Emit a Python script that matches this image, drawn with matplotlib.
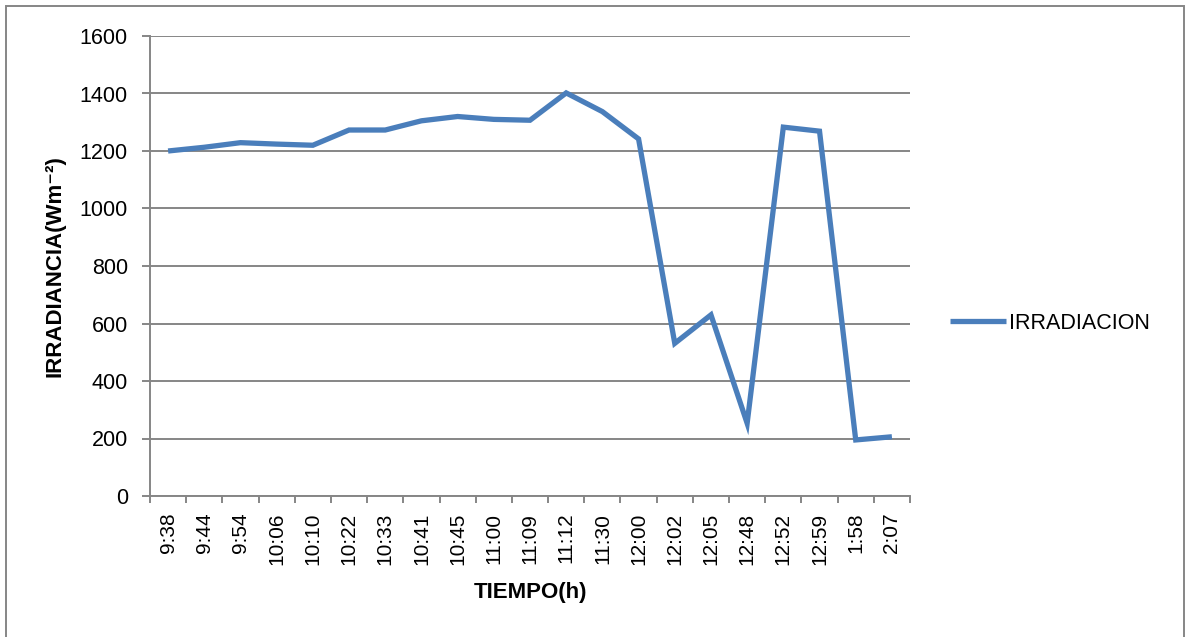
import matplotlib
matplotlib.use("Agg")
import matplotlib.pyplot as plt
from matplotlib.patches import Rectangle

# readings from the chart
tiempo = ["9:38", "9:44", "9:54", "10:06", "10:10", "10:22", "10:33", "10:41",
          "10:45", "11:00", "11:09", "11:12", "11:30", "12:00", "12:02", "12:05",
          "12:48", "12:52", "12:59", "1:58", "2:07"]
irradiacion = [1200, 1213, 1229, 1224, 1220, 1273, 1273, 1305, 1320, 1310, 1307,
               1402, 1337, 1242, 531, 630, 253, 1283, 1269, 195, 206]

plt.rcParams['font.family'] = ['Liberation Sans', 'DejaVu Sans']
grey = '#868686'
blue = '#4a7ebb'

fig = plt.figure(figsize=(11.86, 6.37), dpi=100)
W, H = 1186, 637
ax = fig.add_axes([150 / W, 1 - 496 / H, 760 / W, 460 / H])

x = list(range(len(tiempo)))
ax.plot(x, irradiacion, color=blue, lw=3.8, solid_joinstyle='miter',
        solid_capstyle='butt', label='IRRADIACION', zorder=3)

ax.set_xlim(-0.5, len(tiempo) - 0.5)
ax.set_ylim(0, 1600)
ax.set_yticks(range(0, 1601, 200))
ax.yaxis.grid(True, color=grey, lw=1.4)
ax.set_axisbelow(True)

# category ticks sit between categories, labels at the centres
ax.set_xticks([i - 0.5 for i in range(len(tiempo) + 1)])
ax.set_xticklabels([])
ax.set_xticks(x, minor=True)
ax.set_xticklabels(tiempo, minor=True, rotation=90, fontsize=15)
ax.tick_params(axis='x', which='minor', length=0, pad=12)
ax.tick_params(axis='x', which='major', length=5, width=1.4, color=grey)
ax.tick_params(axis='y', length=6, width=1.4, color=grey, labelsize=15.5, pad=10)

for side in ['top', 'right']:
    ax.spines[side].set_visible(False)
for side in ['left', 'bottom']:
    ax.spines[side].set_color(grey)
    ax.spines[side].set_linewidth(1.4)

ax.set_xlabel('TIEMPO(h)', fontsize=16, fontweight='bold', labelpad=12)
ax.set_ylabel('IRRADIANCIA(Wm\u207b\u00b2)', fontsize=16, fontweight='bold',
              labelpad=10)

leg = ax.legend(loc='center left', bbox_to_anchor=(1.0526, 0.376), frameon=False,
                fontsize=15.5, handlelength=2.6, handletextpad=0.15,
                borderaxespad=0, borderpad=0)
fig.patches.append(Rectangle((6 / W, -0.05), 1178 / W, 1 - 6 / H + 0.05,
                             transform=fig.transFigure, fill=False,
                             edgecolor=grey, lw=1.4))

fig.savefig('out.png', dpi=100, facecolor='white')
